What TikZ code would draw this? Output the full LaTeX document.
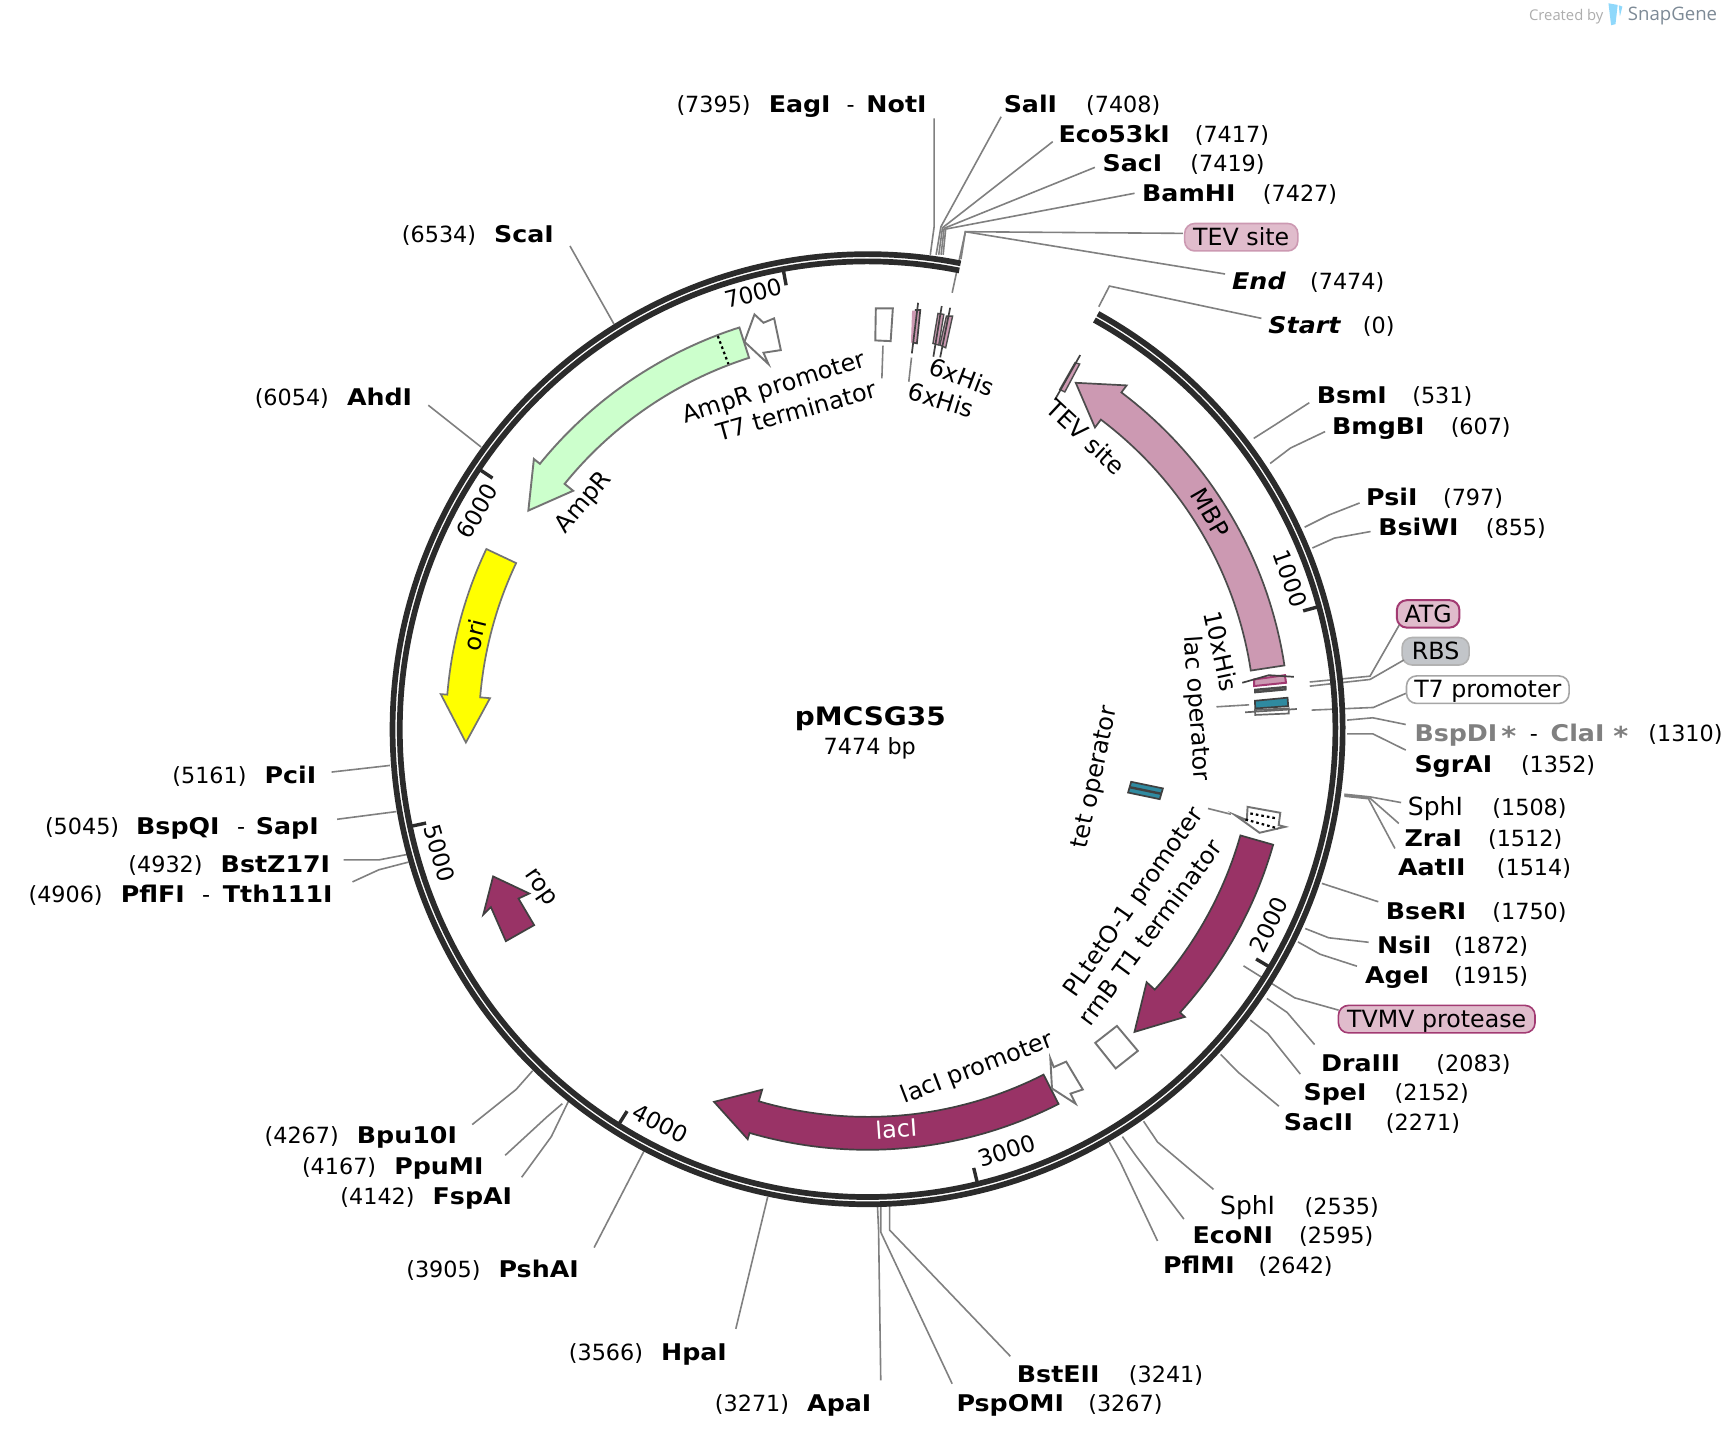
\documentclass[tikz,border=0pt]{standalone}
\usepackage{fontspec}
\setmainfont{DejaVu Sans}[BoldFeatures={FakeStretch=1.1},BoldItalicFeatures={FakeStretch=1.1}]
\newfontfamily\sgfont{Open Sans}
\definecolor{ringc}{HTML}{2B2B2B}
\definecolor{leadc}{HTML}{808080}
\definecolor{mbpc}{HTML}{CC99B2}
\definecolor{magc}{HTML}{993366}
\definecolor{ampc}{HTML}{CCFFCC}
\definecolor{pinkc}{HTML}{E0BCCC}
\definecolor{bordp}{HTML}{CC99B2}
\definecolor{bordm}{HTML}{A23A72}
\definecolor{tealc}{HTML}{2F8AA0}
\definecolor{grayc}{HTML}{C2C5C9}
\definecolor{oric}{HTML}{FFFF00}
\definecolor{sgblue}{HTML}{8FD8FB}
\definecolor{sggray}{HTML}{7D8A96}
\newcommand\lblfont{\fontsize{11.15}{13}\selectfont}
\newcommand\boldfont{\fontsize{11.5}{13}\selectfont\bfseries}
\newcommand\featfont{\fontsize{12}{14}\selectfont}
\newcommand\UU{0.5491pt}
\tikzset{
  x=0.5491pt,y=-0.5491pt,
  lbl/.style={anchor=west,inner sep=0pt,outer sep=0pt,text height=8.2pt,text depth=0pt,font=\lblfont},
  bname/.style={lbl,font=\boldfont},
  gname/.style={lbl,font=\boldfont,text=leadc},
  rlbl/.style={inner sep=0pt,font=\featfont},
  ticklbl/.style={inner sep=0pt,font=\fontsize{11.5}{14}\selectfont},
  pill/.style={anchor=west,rounded corners=5pt,inner sep=0pt,minimum height=25*\UU,text height=8.2pt,text depth=0pt,font=\fontsize{11.85}{13}\selectfont,line width=0.8pt},
  leader/.style={draw=leadc,line width=0.8pt},
  ringl/.style={draw=ringc,line width=2.85pt},
  tickl/.style={draw=ringc,line width=1.7pt},
  fdark/.style={draw=ringc!90,line width=0.85pt,fill=magc},
  fmbp/.style={draw=black!70,line width=0.85pt,fill=mbpc},
  famp/.style={draw=black!55,line width=0.95pt,fill=ampc},
  fori/.style={draw=black!55,line width=0.85pt,fill=oric},
  fwhite/.style={draw=black!55,line width=0.95pt,fill=white},
  fpink/.style={draw=black!70,line width=0.7pt,fill=mbpc},
  fteal/.style={draw=black!75,line width=0.85pt,fill=tealc},
  spine/.style={draw=black!75,line width=0.85pt},
}
\newcommand\Site[6]{\node[bname] (#1) at (#2,#3) {#4};\node[lbl] (#1-pos) at (#5,#3) {#6};}
\newcommand\LeadA[3]{\coordinate (#1-r) at (#2);\draw[leader] (#1-r) -- ([shift={(#3)}]#1.west);}
\newcommand\LeadB[4]{\coordinate (#1-r) at (#2);\coordinate (#1-k) at (#3);\draw[leader] (#1-r) -- (#1-k) -- ([shift={(#4)}]#1.west);}
\newcommand\featarc[9]{\draw[#1] plot[domain=#2:#3,samples=40] (\x-90:#6) -- (#3-90:#8) -- (#4-90:#9) -- (#3-90:#7) -- plot[domain=#3:#2,samples=40] (\x-90:#5) -- cycle;}
\begin{document}
\begin{tikzpicture}
\fill[white] (0,0) rectangle (1568,1311.2);
\useasboundingbox (0,0) rectangle (1568,1311.2);
% SnapGene mark
\node[anchor=west,inner sep=0pt,text=black!32,font=\sgfont\fontsize{7.4}{9}\selectfont] (sgby) at (1392,15) {Created by};
\node[anchor=west,inner sep=0pt,text=sggray,font=\sgfont\fontsize{9.3}{12}\selectfont] (sgname) at (1482,15) {SnapGene};
\fill[sgblue] (1464.6,3) -- (1473,4.5) -- (1471,22) -- (1467,23) -- cycle;
\fill[sgblue] (1474,4.8) -- (1477.3,6) -- (1475,15) -- cycle;
% site labels
\node[lbl] (noti-pos) at (616,95) {(7395)};
\node[bname] (eagi) at (700,95) {EagI};
\node[lbl] (noti-dash) at (771,95) {-};
\node[bname] (noti) at (789,95) {NotI};
\Site{sali}{914}{95}{SalI}{989}{(7408)}
\Site{eco}{964}{122}{Eco53kI}{1088}{(7417)}
\Site{saci}{1004}{149}{SacI}{1084}{(7419)}
\Site{bam}{1040}{176}{BamHI}{1150}{(7427)}
\Site{endl}{1122}{256}{\itshape End}{1193}{(7474)}
\Site{startl}{1155}{296}{\itshape Start}{1241}{(0)}
\Site{bsm}{1199}{360}{BsmI}{1286}{(531)}
\Site{bmg}{1213}{388}{BmgBI}{1321}{(607)}
\Site{psi}{1244}{453}{PsiI}{1314}{(797)}
\Site{bsi}{1255}{480}{BsiWI}{1353}{(855)}
\node[gname] (bsp) at (1288,668) {BspDI};
\node[gname,font=\fontsize{13}{13}\selectfont\bfseries] (bsp-s) at (1367,671) {*};
\node[lbl] (bsp-d) at (1393,668) {-};
\node[gname] (cla) at (1412,668) {ClaI};
\node[gname,font=\fontsize{13}{13}\selectfont\bfseries] (cla-s) at (1469,671) {*};
\node[lbl] (cla-pos) at (1501,668) {(1310)};
\Site{sgr}{1288}{696}{SgrAI}{1385}{(1352)}
\Site{sph}{1282}{735}{\mdseries\fontsize{12.5}{13}\selectfont SphI}{1359}{(1508)}
\Site{zra}{1279}{763}{ZraI}{1355}{(1512)}
\Site{aat}{1273}{790}{AatII}{1363}{(1514)}
\Site{bse}{1262}{830}{BseRI}{1359}{(1750)}
\Site{nsi}{1254}{861}{NsiI}{1324}{(1872)}
\Site{age}{1243}{888}{AgeI}{1324}{(1915)}
\Site{dra}{1203}{968}{DraIII}{1308}{(2083)}
\Site{spe}{1187}{995}{SpeI}{1270}{(2152)}
\Site{sacii}{1169}{1022}{SacII}{1262}{(2271)}
\Site{sphb}{1111}{1098}{\mdseries\fontsize{12.5}{13}\selectfont SphI}{1188}{(2535)}
\Site{econ}{1086}{1125}{EcoNI}{1183}{(2595)}
\Site{pflm}{1059}{1152}{PflMI}{1146}{(2642)}
\Site{bste}{926}{1251}{BstEII}{1028}{(3241)}
\Site{psp}{871}{1278}{PspOMI}{991}{(3267)}
\Site{apa}{735}{1278}{ApaI}{651}{(3271)}
\Site{hpa}{602}{1231}{HpaI}{518}{(3566)}
\Site{psh}{454}{1156}{PshAI}{370}{(3905)}
\Site{fsp}{394}{1089}{FspAI}{310}{(4142)}
\Site{ppu}{359}{1062}{PpuMI}{275}{(4167)}
\Site{bpu}{325}{1034}{Bpu10I}{241}{(4267)}
\node[lbl] (tth-pos) at (26,814) {(4906)};
\node[bname] (pflf) at (110,814) {PflFI};
\node[lbl] (tth-d) at (184,814) {-};
\node[bname] (tth) at (203,814) {Tth111I};
\Site{bstz}{201}{787}{BstZ17I}{117}{(4932)}
\node[lbl] (sap-pos) at (41,752) {(5045)};
\node[bname] (bspq) at (124,752) {BspQI};
\node[lbl] (sap-d) at (216,752) {-};
\node[bname] (sap) at (233,752) {SapI};
\Site{pci}{241}{706}{PciI}{157}{(5161)}
\Site{ahd}{316}{362}{AhdI}{232}{(6054)}
\Site{sca}{450}{213}{ScaI}{366}{(6534)}
% feature pills
\node[pill,draw=bordp,fill=pinkc,minimum width=103*\UU] (ptev) at (1078,216) {TEV site};
\node[pill,draw=bordm,fill=pinkc,minimum width=57*\UU,line width=1pt] (patg) at (1271,559) {ATG};
\node[pill,draw=black!30,fill=grayc,minimum width=61*\UU] (prbs) at (1276,593) {RBS};
\node[pill,draw=black!35,fill=white,minimum width=148*\UU] (pt7) at (1280,628) {T7 promoter};
\node[pill,draw=bordm,fill=pinkc,minimum width=179*\UU] (ptvmv) at (1218,928) {TVMV protease};
% leaders
\LeadB{noti}{847.1,232}{850.6,206.4}{61.6,12.8}
\LeadB{sali}{852.4,232}{856.8,206.4}{-2.4,11.3}
\LeadB{eco}{854.8,232}{858.2,207.4}{-5.4,7}
\LeadB{saci}{856.9,232}{859.7,207.9}{-7,3.4}
\LeadB{bam}{858.8,232}{861.1,208.6}{-6.9,0}
\LeadB{ptev}{867,266.6}{879,211}{-1,-3.5}
\LeadB{endl}{875,236}{879,211}{-6.5,-6.5}
\LeadB{startl}{1000.5,279.3}{1010.2,260.5}{-6.4,-6.1}
\LeadB{bsm}{1141.6,399.2}{1160.8,387}{-6.8,6.7}
\LeadB{bmg}{1156.6,422}{1175,408}{-6.4,5}
\LeadB{psi}{1188,480}{1210,469}{-6,5}
\LeadB{bsi}{1195,499}{1215,490}{-7,4}
\LeadB{patg}{1192.6,621}{1247.5,615.7}{3,10.3}
\LeadB{prbs}{1192.6,624.8}{1247.5,618.7}{2.3,8}
\LeadB{pt7}{1194.4,646.6}{1250.5,644.2}{0,3.4}
\LeadB{bsp}{1226.6,655.7}{1250,653.6}{-8,-8.3}
\LeadB{sgr}{1226.6,668.2}{1250,668.2}{-8,-13}
\LeadB{sph}{1224.1,723.2}{1247.5,725.6}{-6.2,-4.2}
\LeadB{zra}{1224.1,724}{1247.5,726.8}{-5.3,-13.2}
\LeadB{aat}{1224.1,725}{1246,727.3}{-2.8,-17.4}
\LeadA{bse}{1203.7,804.4}{-7,-8.9}
\LeadB{nsi}{1188.5,845.5}{1209.8,853.9}{-7.8,-3}
\LeadB{age}{1181.9,857.7}{1202,868.9}{-7.4,-8.2}
\LeadB{ptvmv}{1132.3,879.5}{1178.9,908.6}{0.9,-8.2}
\LeadB{dra}{1153.6,909.2}{1172,921.9}{-6,-16.9}
\LeadB{spe}{1138.5,928.9}{1154.5,941.1}{-3,-17}
\LeadB{sacii}{1111.5,960.2}{1128.2,977}{-4.5,-14.7}
\LeadB{sphb}{1041.3,1021}{1054,1039.9}{-6,-15}
\LeadB{econ}{1022,1035}{1034,1052}{-8,-15}
\LeadB{pflm}{1010,1040}{1020,1058}{-5,-22}
\LeadB{bste}{810,1098}{810,1120}{-6,-16}
\LeadB{psp}{802,1098}{802,1122}{-4,-18}
\LeadB{apa}{799,1098}{800,1120}{67,-21}
\LeadA{hpa}{699,1090}{68,-21}
\LeadA{psh}{587,1047}{87,-20}
\LeadB{fsp}{518,1002}{502,1035}{81,-17}
\LeadB{ppu}{512,1005}{498,1017}{101,-10}
\LeadB{bpu}{485,975}{470,992}{105,-10}
\LeadB{tth}{372,785}{345,792}{118,-11}
\LeadB{bstz}{371,778}{345,783}{112,-4}
\LeadA{sap}{361,739}{74,-6}
\LeadA{pci}{355,697}{61,-3}
\LeadA{ahd}{438,407}{74,7}
\LeadA{sca}{559,295}{69,11}
% backbone and features, polar about the circle centre
\begin{scope}[shift={(790,664)}]
\draw[white,line width=1.2pt] plot[domain=29:371.3,samples=300] (\x-90:429.3);
\draw[ringl] plot[domain=29:371.3,samples=300] (\x-90:432.6);
\draw[ringl] plot[domain=29:371.3,samples=300] (\x-90:426);
\foreach \t in {74.8,120.6,166.4,212.2,258,303.8,349.6}
  \draw[tickl] (\t-90:411) -- (\t-90:425);
\featarc{fmbp}{81.3}{37}{31}{353}{384}{344}{392}{368}
\featarc{famp}{-17.7}{-51}{-57.2}{355}{384}{345}{391}{367.5}
\featarc{fori}{-64.7}{-85.3}{-91.9}{354}{384}{345}{390}{366}
\featarc{fdark}{105.9}{132.2}{138.6}{353}{384}{343}{390}{367.5}
\featarc{fdark}{153}{196.3}{202.4}{353}{383}{342}{389}{367}
\end{scope}
% rop
\draw[fdark] (449,798) -- (482,813.6) -- (472.1,818.2) -- (486.4,842.4) -- (460.6,857) -- (447,826) -- (440,833) -- cycle;
% AmpR details
\draw[black,line width=1.1pt,dash pattern=on 1.3pt off 1.5pt] (653.6,306) -- (663.3,331.5);
\draw[fwhite] (677.9,311.2) -- (687,286.3) -- (695.2,293.9) -- (704.9,289.9) -- (711,318.8) -- (695.2,321.2) -- (699.7,331.5) -- cycle;
\draw[fwhite] (797.5,280.8) -- (813,280.8) -- (811,310.6) -- (797,310) -- cycle;
% 6xHis
\fill[mbpc] (830.5,283) -- (838,282.3) -- (834.9,312.7) -- (829.5,312) -- cycle;
\draw[spine] (833,282.3) -- (838,282.3) -- (834.9,312.7) -- (832,312);
\draw[spine] (836,275.7) -- (830.3,321.8);
\draw[fpink] (854.1,285.4) -- (859.4,286.3) -- (854.8,314.2) -- (849.5,312.7) -- cycle;
\draw[spine] (857.5,278.7) -- (849.9,324.8);
\draw[fpink] (861.8,287.8) -- (867.4,287.8) -- (861.1,316.7) -- (855.8,314.2) -- cycle;
\draw[spine] (865.2,280.2) -- (856.1,325.4);
% TEV
\draw[fpink] (978.9,330.3) -- (983.1,331.5) -- (969.6,356.9) -- (965,354.7) -- cycle;
\draw[spine] (983.6,323.3) -- (960.4,364.3);
% ATG / 10xHis / lac / T7
\draw[fpink,draw=bordm,line width=1pt] (1142,618.7) -- (1142,624.7) -- (1171,621.7) -- (1170,614.8) -- cycle;
\draw[spine] (1131.2,621.7) -- (1155.4,614.8) -- (1178.2,616.3);
\draw[draw=black!70,line width=1.2pt] (1142,628.3) -- (1171.5,625.6);
\draw[draw=black!70,line width=1.2pt] (1142,630.3) -- (1171.5,627.6);
\draw[fteal] (1142.7,638.1) -- (1172.4,635.3) -- (1173,643) -- (1143,645.1) -- cycle;
\draw[draw=black!60,line width=0.85pt,fill=white] (1142.7,646.5) -- (1173.5,645) -- (1173.5,649.7) -- (1143,651) -- cycle;
\draw[spine,draw=black!60] (1133.7,648.6) -- (1180.9,645.6);
% tet operator
\draw[fteal] (1030,711.9) -- (1058.9,717.9) -- (1056,727.7) -- (1027.2,721.7) -- cycle;
\draw[draw=black!75,line width=1.2pt] (1028.6,716.8) -- (1057.4,722.8);
% PLtetO-1 promoter
\draw[fwhite] (1124.7,742.3) -- (1135.3,746.8) -- (1136,734.7) -- (1165.8,740.1) -- (1164.3,751.4) -- (1170.2,752.9) -- (1146.9,758.3) -- cycle;
\draw[black,line width=1.1pt,dash pattern=on 1.3pt off 1.5pt] (1138.5,740.7) -- (1163,745.3);
\draw[black,line width=1.1pt,dash pattern=on 1.3pt off 1.5pt] (1134.1,746.2) -- (1163.8,754.4);
% rrnB T1 terminator box, lacI promoter
\draw[fwhite] (997.3,949.6) -- (1017,934.2) -- (1036.1,956.9) -- (1015.9,972.9) -- cycle;
\draw[fwhite] (957.9,991.1) -- (956.4,963.9) -- (959.5,971.7) -- (970.8,966.7) -- (986,992.1) -- (974.8,995.8) -- (979.4,1005) -- cycle;
% rotated labels
\node[rlbl,rotate=17.5] (lampp) at (705,354) {AmpR promoter};
\node[rlbl,rotate=15.5] (lt7t) at (725,374) {T7 terminator};
\node[rlbl,rotate=-21] (lhisa) at (876,343) {6xHis};
\node[rlbl,rotate=-17] (lhisb) at (857,364) {6xHis};
\node[rlbl,rotate=-43] (ltev) at (989,398) {TEV site};
\node[rlbl,rotate=-60] (lmbp) at (1102,467) {MBP};
\node[rlbl,rotate=-78] (lhis10) at (1112,593) {10xHis};
\node[rlbl,rotate=-86] (llac) at (1089,645) {lac operator};
\node[rlbl,rotate=78] (ltet) at (998,708) {tet operator};
\node[rlbl,rotate=55] (lpl) at (1033,822) {PLtetO-1 promoter};
\node[rlbl,rotate=53.5] (lrrn) at (1047,849) {rrnB T1 terminator};
\node[rlbl,rotate=21] (llacp) at (890,973) {lacI promoter};
\node[rlbl,rotate=4,text=white] (llaci) at (816,1028) {lacI};
\node[rlbl,rotate=-55] (lrop) at (491,809) {rop};
\node[rlbl,rotate=76] (lori) at (432,578) {ori};
\node[rlbl,rotate=50] (lamp) at (532,458) {AmpR};
% label leaders of features
\draw[leader] (804,314.8) -- ([shift={(78,-29.5)}]lt7t.center);
\draw[leader] (830,325.6) -- ([shift={(-29.5,-16.4)}]lhisb.center);
\draw[leader] ([shift={(18.7,-1.4)}]llac.center) -- (1137.4,641.8);
\draw[leader] ([shift={(67,-85.8)}]lpl.center) -- (1120.8,741.4);
% tick labels
\node[ticklbl,rotate=14.6] (t7k) at (686,267) {7000};
\node[ticklbl,rotate=60] (t6k) at (434.6,465.5) {6000};
\node[ticklbl,rotate=-74] (t5k) at (400,777) {5000};
\node[ticklbl,rotate=-27.7] (t4k) at (601,1023) {4000};
\node[ticklbl,rotate=18] (t3k) at (917,1048) {3000};
\node[ticklbl,rotate=64] (t2k) at (1155.5,842) {2000};
\node[ticklbl,rotate=-70.7] (t1k) at (1175,527) {1000};
% centre
\node[inner sep=0pt,font=\fontsize{12.7}{15}\selectfont\bfseries] (title) at (792.5,654) {pMCSG35};
\node[inner sep=0pt,font=\lblfont] (sub) at (792,681) {7474 bp};
\end{tikzpicture}
\end{document}
